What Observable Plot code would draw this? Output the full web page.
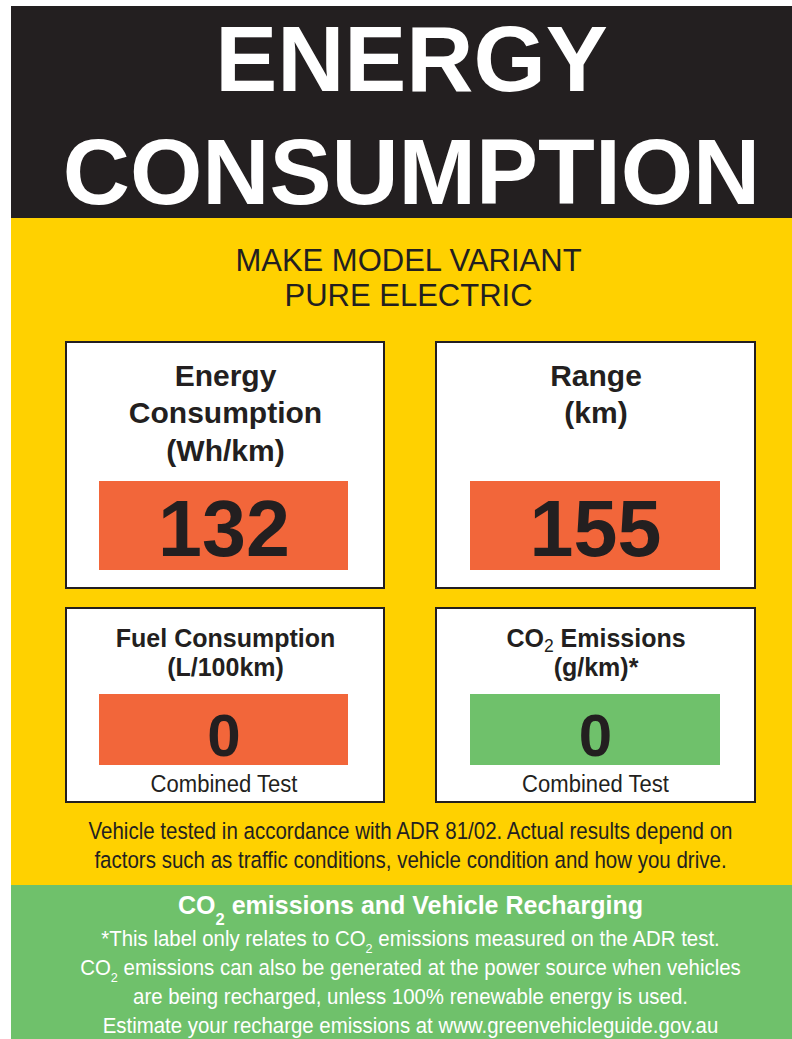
<!DOCTYPE html>
<html><head><meta charset="utf-8">
<script src="https://cdn.jsdelivr.net/npm/d3@7"></script>
<script src="https://cdn.jsdelivr.net/npm/@observablehq/plot@0.6"></script>
<style>html,body{margin:0;padding:0;background:#fff;} #chart svg{display:block;}</style>
</head><body><div id="chart"></div>
<script>
// ---------- data ----------
const headerLines = ["ENERGY", "CONSUMPTION"];
const subtitleLines = ["MAKE MODEL VARIANT", "PURE ELECTRIC"];
const metricNames = ["Energy Consumption", "Range", "Fuel Consumption", "CO2 Emissions"];
const metricTitleLines = [["Energy", "Consumption", "(Wh/km)"], ["Range", "(km)"], ["Fuel Consumption", "(L/100km)"], ["CO2 Emissions", "(g/km)*"]];
const metricValues = [132, 155, 0, 0];
const metricRatings = ["high", "high", "high", "zero"];
const metricNotes = ["", "", "Combined Test", "Combined Test"];
const disclaimerLines = [
  "Vehicle tested in accordance with ADR 81/02. Actual results depend on",
  "factors such as traffic conditions, vehicle condition and how you drive."
];
const rechargeTitle = ["CO2 emissions and Vehicle Recharging"];
const rechargeLines = [
  "*This label only relates to CO2 emissions measured on the ADR test.",
  "CO2 emissions can also be generated at the power source when vehicles",
  "are being recharged, unless 100% renewable energy is used.",
  "Estimate your recharge emissions at www.greenvehicleguide.gov.au"
];

// ---------- layout & style ----------
const W = 792, H = 1039;
const INK = "#231f20", YELLOW = "#ffd100", ORANGE = "#f2663a", GREEN = "#6fc16b", WHITE = "#ffffff";
const SANS = "'Liberation Sans', Arial, Helvetica, sans-serif";
const LEFT = 11, CX = 410;
const HEAD = {y1: 6, y2: 218}, BODY = {y1: 218, y2: 885}, FOOT = {y1: 885, y2: H};
const COLS = [{x1: 66, x2: 384, v1: 99, v2: 348}, {x1: 436, x2: 755, v1: 470, v2: 720}];
const ROWS = [
  {y1: 342, y2: 588, t0: 385, gap: 37.5, tSize: 30, v1: 481, v2: 570, vBase: 555, vSize: 79},
  {y1: 608, y2: 802, t0: 646, gap: 29, tSize: 25, v1: 694, v2: 765, vBase: 755, vSize: 60, nBase: 791}
];
// horizontal condensing for the narrow-face texts (Arial Narrow look)
const CONDENSE = {"note": 0.92, "disclaimer": 0.873, "co2-body": 0.95};
const SUB = {"co2-box": {s: 0.7, dy: 0.2, w: "normal"}, "co2-title": {s: 0.66, dy: 0.45, w: null}, "co2-body": {s: 0.62, dy: 0.36, w: null}};

const panels = metricValues.map((value, i) => {
  const c = COLS[i % 2], r = ROWS[Math.floor(i / 2)];
  return {name: metricNames[i], value, rating: metricRatings[i], note: metricNotes[i], c, r};
});
const titleRows = panels.flatMap((p, i) => metricTitleLines[i].map((t, k) => ({text: t, x: (p.c.x1 + p.c.x2) / 2, y: p.r.t0 + k * p.r.gap, size: p.r.tSize})));
const one = [{}];

const plot = Plot.plot({
  width: W, height: H, margin: 0,
  x: {type: "identity", axis: null},
  y: {type: "identity", axis: null},
  color: {domain: ["high", "zero"], range: [ORANGE, GREEN]},
  style: {background: "transparent"},
  marks: [
    Plot.rect(one, {x1: LEFT, x2: W, y1: HEAD.y1, y2: HEAD.y2, fill: INK}),
    Plot.rect(one, {x1: LEFT, x2: W, y1: BODY.y1, y2: BODY.y2, fill: YELLOW}),
    Plot.rect(one, {x1: LEFT, x2: W, y1: FOOT.y1, y2: FOOT.y2, fill: GREEN}),
    Plot.text(headerLines, {text: d => d, x: CX + 1, y: (d, i) => [90, 203][i], fill: WHITE, fontSize: 93, fontWeight: "bold", fontFamily: SANS, textAnchor: "middle", lineAnchor: "bottom"}),
    Plot.text(subtitleLines, {text: d => d, x: CX - 2, y: (d, i) => 270 + i * 35, fill: INK, fontSize: 31, fontFamily: SANS, textAnchor: "middle", lineAnchor: "bottom"}),
    // panels
    Plot.rect(panels, {x1: d => d.c.x1, x2: d => d.c.x2, y1: d => d.r.y1, y2: d => d.r.y2, fill: WHITE, stroke: INK, strokeWidth: 2}),
    Plot.rect(panels, {x1: d => d.c.v1, x2: d => d.c.v2, y1: d => d.r.v1, y2: d => d.r.v2, fill: "rating"}),
    Plot.text(titleRows.filter(d => d.size === 30), {text: "text", x: "x", y: "y", fill: INK, fontSize: 30, fontWeight: "bold", fontFamily: SANS, textAnchor: "middle", lineAnchor: "bottom"}),
    Plot.text(titleRows.filter(d => d.size === 25), {text: "text", x: "x", y: "y", fill: INK, fontSize: 25, fontWeight: "bold", fontFamily: SANS, textAnchor: "middle", lineAnchor: "bottom"}),
    Plot.text(panels.filter((d, i) => i < 2), {text: d => String(d.value), x: d => (d.c.v1 + d.c.v2) / 2, y: d => d.r.vBase, fill: INK, fontSize: 79, fontWeight: "bold", fontFamily: SANS, textAnchor: "middle", lineAnchor: "bottom"}),
    Plot.text(panels.filter((d, i) => i >= 2), {text: d => String(d.value), x: d => (d.c.v1 + d.c.v2) / 2, y: d => d.r.vBase, fill: INK, fontSize: 60, fontWeight: "bold", fontFamily: SANS, textAnchor: "middle", lineAnchor: "bottom"}),
    Plot.text(panels.filter(d => d.note), {text: "note", x: d => (d.c.v1 + d.c.v2) / 2, y: d => d.r.nBase, fill: INK, fontSize: 24, fontFamily: SANS, textAnchor: "middle", lineAnchor: "bottom"}),
    // disclaimer
    Plot.text(disclaimerLines, {text: d => d, x: CX, y: (d, i) => 838 + i * 29, fill: INK, fontSize: 23.5, fontFamily: SANS, textAnchor: "middle", lineAnchor: "bottom"}),
    // recharge
    Plot.text(rechargeTitle, {text: d => d, x: CX, y: 913, fill: WHITE, fontSize: 25, fontWeight: "bold", fontFamily: SANS, textAnchor: "middle", lineAnchor: "bottom"}),
    Plot.text(rechargeLines, {text: d => d, x: CX, y: (d, i) => 945 + i * 29, fill: WHITE, fontSize: 21.5, fontFamily: SANS, textAnchor: "middle", lineAnchor: "bottom"})
  ]
});
document.getElementById("chart").appendChild(plot);

// classify each text by which data array it came from
const boxTitles = metricTitleLines.flat();
function kindOf(s) {
  if (metricNotes.includes(s)) return "note";
  if (disclaimerLines.includes(s)) return "disclaimer";
  if (rechargeLines.includes(s)) return "co2-body";
  if (rechargeTitle.includes(s)) return "co2-title";
  if (boxTitles.includes(s)) return "co2-box";
  return "";
}

// subscript "2" in CO2, and horizontal condensing of narrow texts
const NS = "http://www.w3.org/2000/svg";
plot.querySelectorAll("text").forEach(t => {
  const s = t.textContent;
  const kind = kindOf(s);
  if (s.includes("CO2") && !t.querySelector("tspan")) {
    const opt = SUB[kind] || SUB["co2-body"];
    const fs = parseFloat(getComputedStyle(t).fontSize);
    const parts = s.split("CO2");
    t.textContent = "";
    parts.forEach((p, i) => {
      if (i === 0) t.appendChild(document.createTextNode(p));
      else {
        const rest = document.createElementNS(NS, "tspan");
        rest.setAttribute("dy", -opt.dy * fs);
        rest.textContent = p;
        t.appendChild(rest);
      }
      if (i < parts.length - 1) {
        t.appendChild(document.createTextNode("CO"));
        const sub = document.createElementNS(NS, "tspan");
        sub.setAttribute("font-size", opt.s * fs);
        sub.setAttribute("dy", opt.dy * fs);
        if (opt.w) sub.setAttribute("font-weight", opt.w);
        sub.textContent = "2";
        t.appendChild(sub);
      }
    });
  }
  const k = CONDENSE[kind];
  if (k) {
    const tr = t.getAttribute("transform");
    if (tr) t.setAttribute("transform", tr + ` scale(${k},1)`);
    else {
      const x = +t.getAttribute("x") || 0, y = +t.getAttribute("y") || 0;
      t.removeAttribute("x"); t.removeAttribute("y");
      t.setAttribute("transform", `translate(${x},${y}) scale(${k},1)`);
    }
  }
});
</script></body></html>
